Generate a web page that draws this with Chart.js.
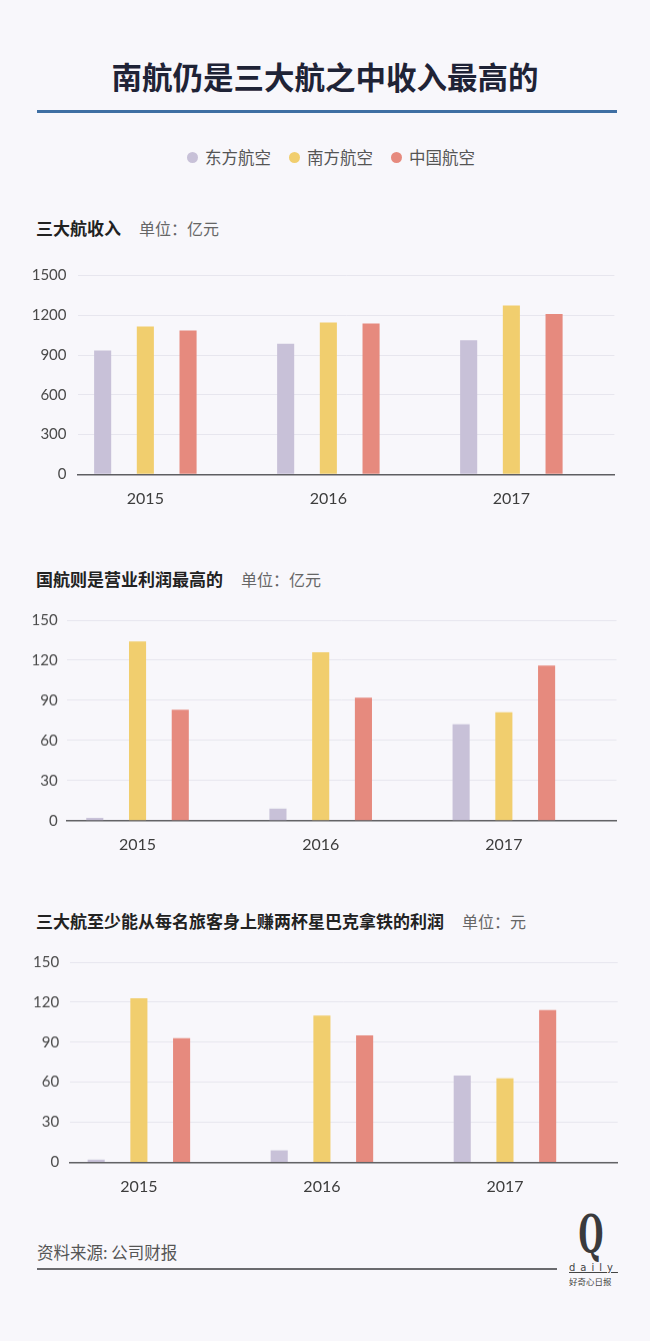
<!DOCTYPE html>
<html>
<head>
<meta charset="utf-8">
<script src="https://cdn.jsdelivr.net/npm/chart.js@4.4.1/dist/chart.umd.min.js"></script>
<style>
html, body { margin: 0; padding: 0; background: #f8f7fb; }
#page { position: relative; width: 650px; height: 1341px; background: #f8f7fb; overflow: hidden;
        font-family: "Noto Sans CJK SC", "Noto Sans", sans-serif; }
.abs { position: absolute; }
#title { left: 0; top: 56px; width: 650px; text-align: center; font-size: 30.5px; font-weight: 700;
         line-height: 40px; color: #1f2336; }
#rule { left: 37px; top: 110px; width: 580px; height: 3px; background: #3f6fa3; }
#legend { left: 6px; top: 147px; width: 650px; height: 20px; display: flex; justify-content: center; }
.lg-item { display: flex; align-items: center; margin: 0 9px; }
.lg-dot { width: 11px; height: 11px; border-radius: 50%; margin-right: 7px; }
.lg-txt { font-size: 16.5px; line-height: 20px; color: #555; }
.sub { left: 36px; height: 24px; line-height: 24px; white-space: nowrap; }
.sub b { font-size: 17px; color: #222; }
.sub span { font-size: 16px; color: #666; margin-left: 18px; }
.chartbox { position: absolute; left: 0; width: 650px; }
#source { left: 37px; top: 1240px; font-size: 16.5px; line-height: 24px; color: #555; }
#srcline { left: 37px; top: 1268px; width: 520px; height: 1.5px; background: #6a6a6e; }
#logoQ { left: 567px; top: 1204px; width: 48px; text-align: center; font-family: "DejaVu Serif", serif;
         font-size: 52px; font-weight: 700; line-height: 60px; color: #3a3a3c; transform: scaleX(0.55); }
#logoDaily { left: 569px; top: 1262px; width: 44px; font-family: "DejaVu Sans", sans-serif; font-size: 10px;
             letter-spacing: 5px; line-height: 12px; color: #444; text-decoration: underline; }
#logoCn { left: 569px; top: 1276px; font-size: 8.5px; line-height: 10px; color: #444; white-space: nowrap; }
</style>
</head>
<body>
<div id="page">
  <div id="title" class="abs">南航仍是三大航之中收入最高的</div>
  <div id="rule" class="abs"></div>
  <div id="legend" class="abs"></div>

  <div class="abs sub" style="top:216px"><b>三大航收入</b><span>单位：亿元</span></div>
  <div class="chartbox" id="box1"><canvas id="c1"></canvas></div>

  <div class="abs sub" style="top:567px"><b>国航则是营业利润最高的</b><span>单位：亿元</span></div>
  <div class="chartbox" id="box2"><canvas id="c2"></canvas></div>

  <div class="abs sub" style="top:909px"><b>三大航至少能从每名旅客身上赚两杯星巴克拿铁的利润</b><span>单位：元</span></div>
  <div class="chartbox" id="box3"><canvas id="c3"></canvas></div>

  <div id="source" class="abs">资料来源: 公司财报</div>
  <div id="srcline" class="abs"></div>
  <div id="logoQ" class="abs">Q</div>
  <div id="logoDaily" class="abs">daily</div>
  <div id="logoCn" class="abs">好奇心日报</div>
</div>

<script>
// categories and series
const years = [2015, 2016, 2017];
const seriesNames = ['东方航空', '南方航空', '中国航空'];
const seriesColors = ['#c8c1d8', '#f1ce6e', '#e68a7e'];

// 三大航收入 (亿元)
const revenueEastern = [935, 985, 1012];
const revenueSouthern = [1115, 1145, 1273];
const revenueAirChina = [1085, 1138, 1210];

// 营业利润 (亿元)
const profitEastern = [2, 9, 72];
const profitSouthern = [134, 126, 81];
const profitAirChina = [83, 92, 116];

// 每名旅客利润 (元)
const perPaxEastern = [2, 9, 65];
const perPaxSouthern = [123, 110, 63];
const perPaxAirChina = [93, 95, 114];

const revenueTicks = [0, 300, 600, 900, 1200, 1500];
const profitTicks = [0, 30, 60, 90, 120, 150];

// legend
const legendEl = document.getElementById('legend');
seriesNames.forEach((name, i) => {
  const item = document.createElement('div');
  item.className = 'lg-item';
  item.innerHTML = '<div class="lg-dot" style="background:' + seriesColors[i] + '"></div><div class="lg-txt">' + name + '</div>';
  legendEl.appendChild(item);
});

function makeChart(id, boxId, series, yTicks, box) {
  const holder = document.getElementById(boxId);
  holder.style.top = (box.top - 20) + 'px';
  holder.style.height = (box.bottom - box.top + 50) + 'px';

  const datasets = series.map((vals, i) => ({
    label: seriesNames[i],
    data: vals.map((v, j) => ({ x: years[j], y: v })),
    backgroundColor: seriesColors[i],
    borderWidth: 0,
    categoryPercentage: 0.7,
    barPercentage: 0.4
  }));

  return new Chart(document.getElementById(id), {
    type: 'bar',
    data: { datasets: datasets },
    options: {
      responsive: true,
      maintainAspectRatio: false,
      animation: false,
      layout: { padding: { top: 20, right: 650 - box.right, bottom: 0, left: 0 } },
      plugins: { legend: { display: false }, tooltip: { enabled: false } },
      scales: {
        x: {
          type: 'linear',
          offset: false,
          min: box.xMin,
          max: box.xMax,
          grid: { display: false, offset: false },
          border: { display: true, color: '#5e5e62', width: 1.5 },
          afterBuildTicks: s => { s.ticks = years.map(v => ({ value: v })); },
          afterFit: s => { s.height = 30; },
          ticks: {
            padding: 7, color: '#3d3d3d', maxRotation: 0, autoSkip: false,
            font: { family: 'Lato', size: 16 },
            callback: v => String(v)
          }
        },
        y: {
          min: yTicks[0],
          max: yTicks[yTicks.length - 1],
          afterBuildTicks: s => { s.ticks = yTicks.map(v => ({ value: v })); },
          afterFit: s => { s.width = box.left; },
          grid: { color: '#e7e6ee', lineWidth: 1, drawTicks: false },
          border: { display: false },
          ticks: {
            padding: box.tickPad, color: '#4a4a4a',
            font: { family: 'Lato', size: 15 },
            callback: v => String(v)
          }
        }
      }
    }
  });
}

makeChart('c1', 'box1', [revenueEastern, revenueSouthern, revenueAirChina], revenueTicks,
  { top: 274.7, bottom: 474, left: 78, right: 614.4, tickPad: 11.5, xMin: 2014.632, xMax: 2017.563 });
makeChart('c2', 'box2', [profitEastern, profitSouthern, profitAirChina], profitTicks,
  { top: 620, bottom: 819.7, left: 67.2, right: 616.5, tickPad: 9.5, xMin: 2014.616, xMax: 2017.615 });
makeChart('c3', 'box3', [perPaxEastern, perPaxSouthern, perPaxAirChina], profitTicks,
  { top: 962.3, bottom: 1161.7, left: 69.7, right: 617.7, tickPad: 10.5, xMin: 2014.622, xMax: 2017.616 });
</script>
</body>
</html>
